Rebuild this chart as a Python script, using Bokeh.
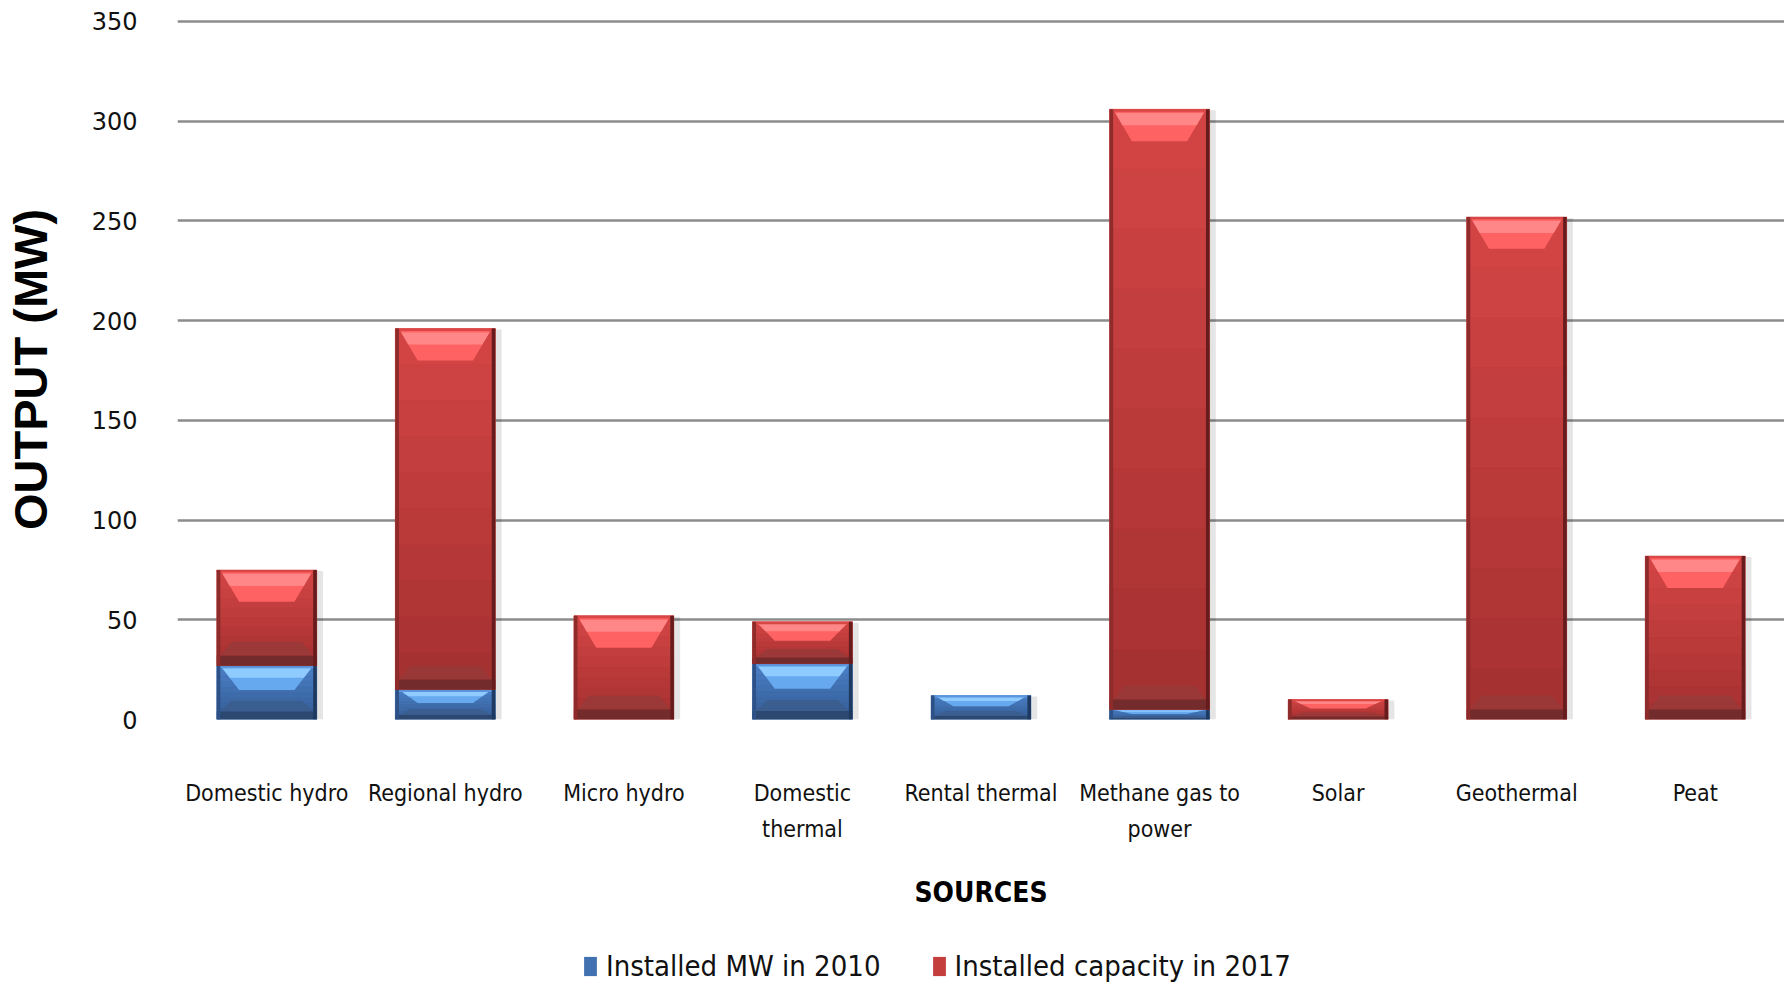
from bokeh.plotting import figure
from bokeh.layouts import column
from bokeh.models import (Range1d, FixedTicker, Legend, LegendItem)
from bokeh.embed import file_html
from bokeh.resources import INLINE

# ---------------- data ----------------
categories = ["Domestic hydro", "Regional hydro", "Micro hydro", "Domestic\nthermal",
              "Rental thermal", "Methane gas to\npower", "Solar", "Geothermal", "Peat"]
installed_mw_2010 = [27, 15, 0, 28, 12, 5, 0, 0, 0]
installed_capacity_2017 = [48, 181, 52, 21, 0, 301, 10, 252, 82]
y_ticks = [0, 50, 100, 150, 200, 250, 300, 350]
series_names = ["Installed MW in 2010", "Installed capacity in 2017"]

# ---------------- styles ----------------
BAR_W = 0.56
SIDE = 0.02
INSET = 0.105
NBANDS = 10
RED = dict(top=(0xd2, 0x44, 0x44), bottom=(0xa6, 0x31, 0x31), sl="#8e2b2b", sr="#661c1c",
           bevel="#ff6262", hi="#ff8787", edge="#d94646", bot="#742b2b", botbev="#973939")
BLUE = dict(top=(0x4a, 0x7f, 0xc4), bottom=(0x35, 0x5d, 0x97), sl="#2e5288", sr="#1f3a60",
            bevel="#66a9ef", hi="#8fcbff", edge="#5b96de", bot="#2c4870", botbev="#3c5d8c")

COND = "DejaVu Sans Condensed"

p = figure(frame_width=1607, frame_height=700, output_backend="svg", toolbar_location=None,
           x_range=Range1d(-0.5, len(categories) - 0.5), y_range=Range1d(0, 351),
           min_border_left=167, min_border_right=0, min_border_top=19, min_border_bottom=200)
p.outline_line_color = None
p.xgrid.grid_line_color = None
p.ygrid.grid_line_color = "#8c8c8c"
p.ygrid.grid_line_width = 2.5
p.background_fill_color = "white"

xs = list(range(len(categories)))
totals = [a + b for a, b in zip(installed_mw_2010, installed_capacity_2017)]

# shadow
p.vbar(x=[x + 0.03 for x in xs], width=BAR_W + 0.01, bottom=0, top=[t - 0.5 for t in totals],
       fill_color="black", fill_alpha=0.10, line_color=None)


def mix(c1, c2, f):
    return "#%02x%02x%02x" % tuple(int(round(a + (b - a) * f)) for a, b in zip(c1, c2))


def draw_segments(bottoms, tops, c):
    rows = [(x, b, t) for x, b, t in zip(xs, bottoms, tops) if t - b > 0]
    X = [r[0] for r in rows]
    B = [r[1] for r in rows]
    T = [r[2] for r in rows]
    H = [t - b for b, t in zip(B, T)]
    hw = BAR_W / 2
    p.vbar(x=X, width=BAR_W, bottom=B, top=T, fill_color=mix(c["top"], c["bottom"], 0.6),
           line_color=None)
    # vertical gradient of the body
    gx, gb, gt, gc = [], [], [], []
    for x, b, h in zip(X, B, H):
        for k in range(NBANDS):
            gx.append(x)
            gb.append(b + h * (NBANDS - k - 1) / NBANDS)
            gt.append(b + h * (NBANDS - k) / NBANDS)
            gc.append(mix(c["top"], c["bottom"], k / (NBANDS - 1)))
    p.vbar(x=gx, width=BAR_W, bottom=gb, top=gt, fill_color=gc, line_color=gc, line_width=0.5)
    # bottom bevel + band
    band = [min(5.0, 0.15 * h) for h in H]
    bb = [min(7.0, 0.2 * h) for h in H]
    p.patches(xs=[[x - hw + SIDE, x + hw - SIDE, x + hw - SIDE - INSET * 0.6, x - hw + SIDE + INSET * 0.6]
                  for x in X],
              ys=[[b + d, b + d, b + d + e, b + d + e] for b, d, e in zip(B, band, bb)],
              fill_color=c["botbev"], fill_alpha=0.8, line_color=None)
    p.vbar(x=X, width=BAR_W, bottom=B, top=[b + d for b, d in zip(B, band)],
           fill_color=c["bot"], line_color=None)
    # top bevel
    bh = [min(16.0, 0.45 * h) for h in H]
    p.patches(xs=[[x - hw + SIDE, x + hw - SIDE, x + hw - SIDE - INSET, x - hw + SIDE + INSET] for x in X],
              ys=[[t, t, t - e, t - e] for t, e in zip(T, bh)],
              fill_color=c["bevel"], line_color=None)
    p.patches(xs=[[x - hw + SIDE + INSET * 0.12, x + hw - SIDE - INSET * 0.12,
                   x + hw - SIDE - INSET * 0.5, x - hw + SIDE + INSET * 0.5] for x in X],
              ys=[[t - 0.12 * e, t - 0.12 * e, t - 0.5 * e, t - 0.5 * e] for t, e in zip(T, bh)],
              fill_color=c["hi"], line_color=None)
    p.vbar(x=X, width=BAR_W, bottom=[t - min(1.2, 0.08 * h) for t, h in zip(T, H)], top=T,
           fill_color=c["edge"], line_color=None)
    # side edges
    p.vbar(x=[x - hw + SIDE / 2 for x in X], width=SIDE, bottom=B, top=T,
           fill_color=c["sl"], line_color=None)
    p.vbar(x=[x + hw - SIDE / 2 for x in X], width=SIDE, bottom=B, top=T,
           fill_color=c["sr"], line_color=None)


draw_segments([0] * len(xs), installed_mw_2010, BLUE)
draw_segments(installed_mw_2010, totals, RED)

# ---------------- axes ----------------
p.yaxis.ticker = FixedTicker(ticks=y_ticks)
p.yaxis.axis_line_color = None
p.yaxis.major_tick_line_color = None
p.yaxis.minor_tick_line_color = None
p.yaxis.major_tick_out = 0
p.yaxis.major_label_standoff = 40
p.yaxis.major_label_text_font = "DejaVu Sans"
p.yaxis.major_label_text_font_size = "24px"
p.yaxis.major_label_text_color = "#111111"
p.yaxis.axis_label = "OUTPUT (MW)"
p.yaxis.axis_label_text_font = "Liberation Sans"
p.yaxis.axis_label_text_font_style = "bold"
p.yaxis.axis_label_text_font_size = "47px"
p.yaxis.axis_label_text_color = "black"
p.yaxis.axis_label_standoff = 32

p.xaxis.ticker = FixedTicker(ticks=xs)
p.xaxis.major_label_overrides = {i: c for i, c in zip(xs, categories)}
p.xaxis.axis_line_color = None
p.xaxis.major_tick_line_color = None
p.xaxis.minor_tick_line_color = None
p.xaxis.major_tick_out = 0
p.xaxis.major_label_standoff = 60
p.xaxis.major_label_text_font = COND
p.xaxis.major_label_text_font_size = "23px"
p.xaxis.major_label_text_line_height = 1.4
p.xaxis.major_label_text_color = "#111111"
p.xaxis.axis_label = "SOURCES"
p.xaxis.axis_label_text_font = COND
p.xaxis.axis_label_text_font_style = "bold"
p.xaxis.axis_label_text_font_size = "28px"
p.xaxis.axis_label_text_color = "black"
p.xaxis.axis_label_standoff = 31

# ---------------- legend strip ----------------
lg = figure(width=1776, height=64, output_backend="svg", toolbar_location=None,
            x_range=Range1d(0, 1), y_range=Range1d(0, 1), x_axis_location=None,
            y_axis_location=None, min_border=0)
lg.outline_line_color = None
lg.xgrid.visible = False
lg.ygrid.visible = False
k_blue = lg.vbar(x=[0.5], top=[0], bottom=[0], width=0,
                 fill_color=mix(BLUE["top"], BLUE["bottom"], 0.4), line_color=None)
k_red = lg.vbar(x=[0.5], top=[0], bottom=[0], width=0,
                fill_color=mix(RED["top"], RED["bottom"], 0.3), line_color=None)
legend = Legend(items=[LegendItem(label=series_names[0], renderers=[k_blue]),
                       LegendItem(label=series_names[1], renderers=[k_red])],
                orientation="horizontal", location=(405, 0),
                glyph_width=16, glyph_height=24, label_standoff=8, spacing=50,
                padding=0, margin=0, border_line_color=None, background_fill_alpha=0,
                label_text_font=COND, label_text_font_size="29px", label_text_color="#111111")
lg.add_layout(legend, "center")

layout = column(p, lg, spacing=0)
open("out.html", "w").write(file_html(layout, INLINE))
